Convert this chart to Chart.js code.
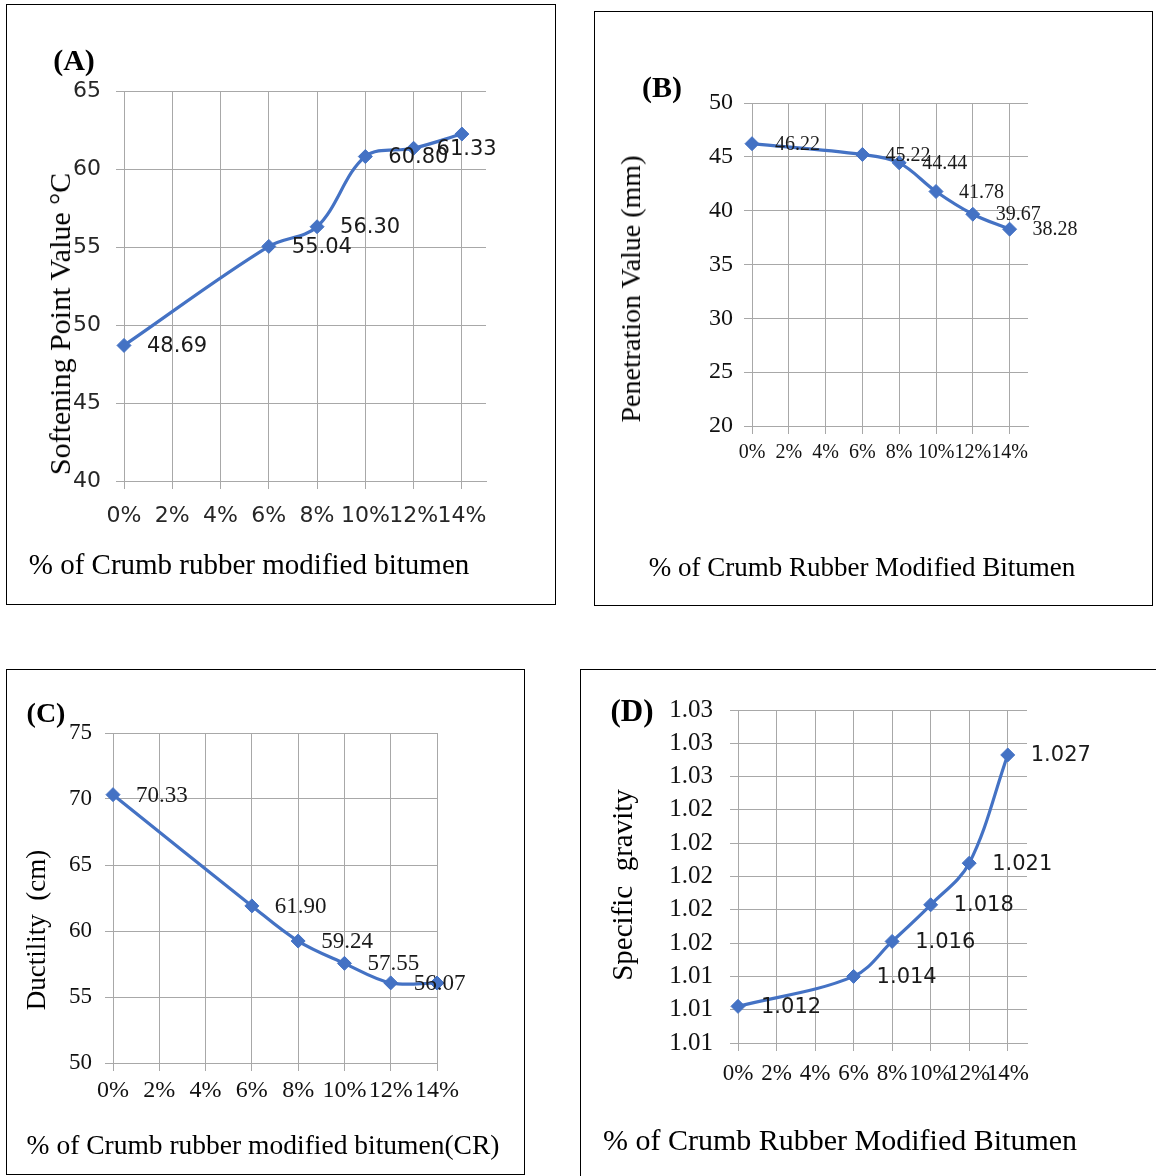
<!DOCTYPE html>
<html>
<head>
<meta charset="utf-8">
<script src="https://cdn.jsdelivr.net/npm/chart.js@4.4.1/dist/chart.umd.min.js"></script>
<style>
    body { margin: 0; background: #fff; width: 1156px; height: 1176px; position: relative; overflow: hidden; }
    .box { position: absolute; border: 1.5px solid #000; box-sizing: border-box; }
    canvas { position: absolute; }
    .t { position: absolute; white-space: pre; font-family: "Liberation Serif", "Times New Roman", serif; color: #000; line-height: 1; transform: translate(-50%, -50%); }
    .rot { transform: translate(-50%, -50%) rotate(-90deg); }
    .tag { font-weight: bold; }
</style>
</head>
<body>
<div class="box" style="left:6px;top:4px;width:550px;height:601px"></div>
<div class="box" style="left:594px;top:11px;width:559px;height:595px"></div>
<div class="box" style="left:6px;top:669px;width:519px;height:506px"></div>
<div class="box" style="left:580px;top:669px;width:600px;height:520px"></div>

<canvas id="chart-a"></canvas>
<canvas id="chart-b"></canvas>
<canvas id="chart-c"></canvas>
<canvas id="chart-d"></canvas>

<div class="t tag" style="left:74px;top:60px;font-size:30px">(A)</div>
<div class="t rot" style="left:60px;top:324px;font-size:30px">Softening Point Value °C</div>
<div class="t" style="left:249px;top:564px;font-size:29px">% of Crumb rubber modified bitumen</div>

<div class="t tag" style="left:662px;top:87px;font-size:30px">(B)</div>
<div class="t rot" style="left:631px;top:289px;font-size:28px">Penetration Value (mm)</div>
<div class="t" style="left:862px;top:567px;font-size:27px">% of Crumb Rubber Modified Bitumen</div>

<div class="t tag" style="left:46px;top:713px;font-size:28px">(C)</div>
<div class="t rot" style="left:36px;top:930px;font-size:27px">Ductility  (cm)</div>
<div class="t" style="left:263px;top:1145px;font-size:27.5px">% of Crumb rubber modified bitumen(CR)</div>

<div class="t tag" style="left:632px;top:710px;font-size:31px">(D)</div>
<div class="t rot" style="left:622px;top:885px;font-size:29px">Specific  gravity</div>
<div class="t" style="left:840px;top:1140px;font-size:30px">% of Crumb Rubber Modified Bitumen</div>

<script>
// crumb rubber content (%), same for all four tests
const crumbPct = [0, 6, 8, 10, 12, 14];
const xTicks = [0, 2, 4, 6, 8, 10, 12, 14];

// (A) softening point
const softening = [48.69, 55.04, 56.30, 60.80, 61.33, 62.24];
const softeningLabels = ['48.69', '55.04', '56.30', '60.80', '61.33', ''];
const softeningTicks = [40, 45, 50, 55, 60, 65];

// (B) penetration
const penetration = [46.22, 45.22, 44.44, 41.78, 39.67, 38.28];
const penetrationLabels = ['46.22', '45.22', '44.44', '41.78', '39.67', '38.28'];
const penetrationTicks = [20, 25, 30, 35, 40, 45, 50];

// (C) ductility
const ductility = [70.33, 61.90, 59.24, 57.55, 56.07, 56.06];
const ductilityLabels = ['70.33', '61.90', '59.24', '57.55', '56.07', ''];
const ductilityTicks = [50, 55, 60, 65, 70, 75];

// (D) specific gravity
const gravity = [1.0122, 1.0140, 1.0161, 1.0183, 1.0208, 1.0273];
const gravityLabels = ['1.012', '1.014', '1.016', '1.018', '1.021', '1.027'];
const gravityTicks = [1.010, 1.012, 1.014, 1.016, 1.018, 1.020, 1.022, 1.024, 1.026, 1.028, 1.030];

const BLUE = '#4472C4';
const GRID = '#a8a8a8';
const SANS = '"DejaVu Sans", sans-serif';
const SERIF = '"Liberation Serif", "Times New Roman", serif';

function labelPlugin(texts, font, color, dx, dy) {
    return {
        id: 'pointLabels',
        afterDatasetsDraw(chart) {
            const ctx = chart.ctx;
            const pts = chart.getDatasetMeta(0).data;
            ctx.save();
            ctx.font = font;
            ctx.fillStyle = color;
            ctx.textAlign = 'left';
            ctx.textBaseline = 'middle';
            pts.forEach((p, i) => {
                if (texts[i]) ctx.fillText(texts[i], p.x + dx, p.y + dy);
            });
            ctx.restore();
        }
    };
}

// box = canvas rect on the page, area = wanted chart area on the page
function panelChart(id, box, area, values, texts, yTicks, cfg) {
    const canvas = document.getElementById(id);
    canvas.width = box.w;
    canvas.height = box.h;
    canvas.style.left = box.x + 'px';
    canvas.style.top = box.y + 'px';

    const yWidth = area.l - box.x;
    const xHeight = box.y + box.h - area.b;
    const tl = 8;

    new Chart(canvas, {
        type: 'line',
        data: {
            datasets: [{
                data: crumbPct.map((x, i) => ({ x: x, y: values[i] })),
                borderColor: BLUE,
                backgroundColor: BLUE,
                borderWidth: 3.2,
                pointStyle: 'rectRot',
                pointRadius: 7,
                pointBorderWidth: 1,
                pointHoverRadius: 7,
                tension: 0.35,
                clip: false
            }]
        },
        options: {
            responsive: false,
            animation: false,
            events: [],
            layout: {
                padding: { left: 0, bottom: 0, top: area.t - box.y, right: box.x + box.w - area.r }
            },
            plugins: {
                legend: { display: false },
                tooltip: { enabled: false }
            },
            scales: {
                x: {
                    type: 'linear',
                    min: 0,
                    max: cfg.xMax,
                    afterBuildTicks: s => { s.ticks = xTicks.map(v => ({ value: v })); },
                    afterFit: s => { s.height = xHeight; },
                    grid: { color: GRID, lineWidth: 1, tickLength: tl },
                    border: { color: GRID },
                    ticks: {
                        autoSkip: false,
                        maxRotation: 0,
                        minRotation: 0,
                        padding: cfg.xPad,
                        color: cfg.tickColor,
                        font: { family: cfg.xFont, size: cfg.xSize },
                        callback: v => v + '%'
                    }
                },
                y: {
                    min: yTicks[0],
                    max: yTicks[yTicks.length - 1],
                    afterBuildTicks: s => { s.ticks = yTicks.map(v => ({ value: v })); },
                    afterFit: s => { s.width = yWidth; },
                    grid: { color: GRID, lineWidth: 1, tickLength: tl },
                    border: { color: GRID },
                    ticks: {
                        padding: cfg.yPad,
                        color: cfg.tickColor,
                        font: { family: cfg.yFont, size: cfg.ySize },
                        callback: cfg.yFormat
                    }
                }
            }
        },
        plugins: [labelPlugin(texts, cfg.labelFont, '#1a1a1a', 23, 1)]
    });
}

panelChart('chart-a',
    { x: 8, y: 6, w: 546, h: 597 },
    { l: 124, r: 486, t: 91, b: 481 },
    softening, softeningLabels, softeningTicks,
    { xMax: 15, xPad: 14, yPad: 15, xFont: SANS, xSize: 22, yFont: SANS, ySize: 22,
      tickColor: '#262626', yFormat: v => v, labelFont: '21px ' + SANS });

panelChart('chart-b',
    { x: 596, y: 13, w: 555, h: 591 },
    { l: 752, r: 1028, t: 103, b: 426 },
    penetration, penetrationLabels, penetrationTicks,
    { xMax: 15, xPad: 7, yPad: 11, xFont: SERIF, xSize: 20, yFont: SERIF, ySize: 24,
      tickColor: '#111', yFormat: v => v, labelFont: '20px ' + SERIF });

panelChart('chart-c',
    { x: 8, y: 671, w: 515, h: 502 },
    { l: 113, r: 437, t: 733, b: 1063 },
    ductility, ductilityLabels, ductilityTicks,
    { xMax: 14, xPad: 5, yPad: 13, xFont: SERIF, xSize: 24, yFont: SERIF, ySize: 23,
      tickColor: '#111', yFormat: v => v, labelFont: '23px ' + SERIF });

panelChart('chart-d',
    { x: 582, y: 671, w: 574, h: 505 },
    { l: 738, r: 1027, t: 710, b: 1043 },
    gravity, gravityLabels, gravityTicks,
    { xMax: 15, xPad: 9, yPad: 17, xFont: SERIF, xSize: 23, yFont: SERIF, ySize: 25,
      tickColor: '#111', yFormat: v => v.toFixed(2), labelFont: '21px ' + SANS });
</script>
</body>
</html>
